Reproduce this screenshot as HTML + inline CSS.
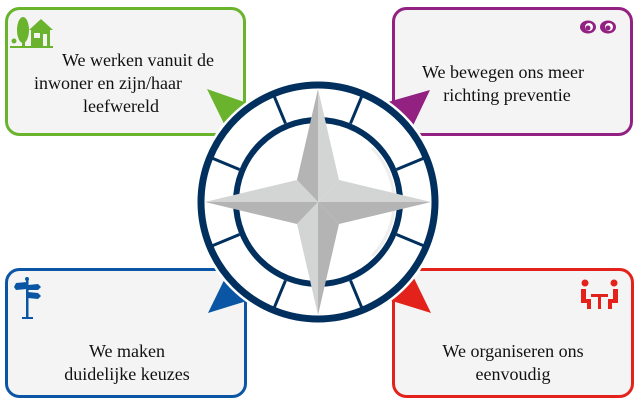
<!DOCTYPE html>
<html><head><meta charset="utf-8"><style>
html,body{margin:0;padding:0;background:#fff;}
svg{display:block;}
text{font-family:"Liberation Serif",serif;font-size:18px;fill:#111;}
</style></head><body>
<svg width="637" height="406" viewBox="0 0 637 406" xmlns="http://www.w3.org/2000/svg">
<rect x="6.5" y="8.5" width="238" height="126" rx="13" fill="#f4f4f4" stroke="#6ab42d" stroke-width="3"/>
<rect x="393.5" y="8.5" width="238" height="126" rx="13" fill="#f4f4f4" stroke="#922181" stroke-width="3"/>
<rect x="6.5" y="269.5" width="239" height="127" rx="13" fill="#f4f4f4" stroke="#0b56a4" stroke-width="3"/>
<rect x="393.5" y="269.5" width="239" height="127" rx="13" fill="#f4f4f4" stroke="#e3231b" stroke-width="3"/>
<polygon points="207,89 250,104 228,132" fill="#6ab42d"/>
<polygon points="430,90 388,102 410,132" fill="#922181"/>
<polygon points="208,313 228,272 250,300" fill="#0b56a4"/>
<polygon points="431,313 411,272 389,300" fill="#e3231b"/>
<circle cx="318" cy="202" r="123" fill="#fff"/>
<circle cx="318" cy="202" r="117" fill="none" stroke="#01305f" stroke-width="7"/>
<circle cx="318" cy="202" r="82" fill="none" stroke="#01305f" stroke-width="6"/>
<path d="M372,148 A77,77 0 0 1 372,256" fill="none" stroke="#eeeeee" stroke-width="3"/>
<g stroke="#01305f" stroke-width="3">
<line x1="318" y1="-85" x2="318" y2="-114" transform="translate(0,202) rotate(22.5 318 0)"/>
<line x1="318" y1="-85" x2="318" y2="-114" transform="translate(0,202) rotate(67.5 318 0)"/>
<line x1="318" y1="-85" x2="318" y2="-114" transform="translate(0,202) rotate(112.5 318 0)"/>
<line x1="318" y1="-85" x2="318" y2="-114" transform="translate(0,202) rotate(157.5 318 0)"/>
<line x1="318" y1="-85" x2="318" y2="-114" transform="translate(0,202) rotate(202.5 318 0)"/>
<line x1="318" y1="-85" x2="318" y2="-114" transform="translate(0,202) rotate(247.5 318 0)"/>
<line x1="318" y1="-85" x2="318" y2="-114" transform="translate(0,202) rotate(292.5 318 0)"/>
<line x1="318" y1="-85" x2="318" y2="-114" transform="translate(0,202) rotate(337.5 318 0)"/>
</g>
<g transform="translate(318,202)">
<polygon points="0,-113 -21,-22 0,0" fill="#b4b4b4"/>
<polygon points="0,-113 21,-22 0,0" fill="#d3d4d4"/>
<polygon points="113,0 21,-22 0,0" fill="#d3d4d4"/>
<polygon points="113,0 21,22 0,0" fill="#b4b4b4"/>
<polygon points="0,113 21,22 0,0" fill="#b4b4b4"/>
<polygon points="0,113 -21,22 0,0" fill="#d3d4d4"/>
<polygon points="-113,0 -21,22 0,0" fill="#b4b4b4"/>
<polygon points="-113,0 -21,-22 0,0" fill="#d3d4d4"/>
</g>
<g fill="#6ab42d">
<ellipse cx="23" cy="30" rx="6" ry="13"/>
<rect x="22" y="38" width="3" height="10"/>
<polygon points="29,30 41,19 53,30 50,30 50,46 31,46 31,30"/>
<rect x="10" y="46" width="43" height="2"/>
<circle cx="14" cy="41" r="2.5"/>
</g>
<rect x="34" y="33" width="6" height="5" fill="#f4f4f4"/>
<rect x="43" y="34" width="4" height="12" fill="#f4f4f4"/>
<g fill="#922181">
<ellipse cx="588" cy="27" rx="8" ry="6.5"/>
<ellipse cx="608" cy="27" rx="8" ry="6.5"/>
</g>
<circle cx="589" cy="27" r="4" fill="#fff"/><circle cx="609" cy="27" r="4" fill="#fff"/>
<circle cx="588" cy="28" r="2.5" fill="#922181"/><circle cx="608" cy="28" r="2.5" fill="#922181"/>
<g fill="#0b56a4">
<rect x="26" y="280" width="2.5" height="38"/>
<rect x="22" y="317" width="11" height="2"/>
<polygon points="16,283 27,282 27,289 16,290 14,287"/>
<polygon points="28,285 38,284 41,287 38,290 28,290"/>
<polygon points="28,292 38,293 41,296 38,299 28,298"/>
<circle cx="27" cy="279" r="2"/>
</g>
<g fill="#e3231b">
<circle cx="585" cy="283" r="3.5"/><circle cx="614" cy="283" r="3.5"/>
<path d="M581,289h5v10h5v10h-4v-6h-6z"/>
<path d="M618,289h-5v10h-5v10h4v-6h6z"/>
<rect x="591" y="294" width="17" height="3"/>
<rect x="598" y="296" width="3" height="13"/>
</g>
<text x="138" y="66" text-anchor="middle">We werken vanuit  de</text>
<text x="108" y="89" text-anchor="middle">inwoner en zijn/haar</text>
<text x="121" y="112" text-anchor="middle">leefwereld</text>
<text x="503" y="78" text-anchor="middle">We bewegen ons meer</text>
<text x="507" y="101" text-anchor="middle">richting preventie</text>
<text x="127" y="357" text-anchor="middle">We maken</text>
<text x="127" y="380" text-anchor="middle">duidelijke keuzes</text>
<text x="513" y="357" text-anchor="middle">We organiseren ons</text>
<text x="513" y="380" text-anchor="middle">eenvoudig</text>
</svg>
</body></html>
